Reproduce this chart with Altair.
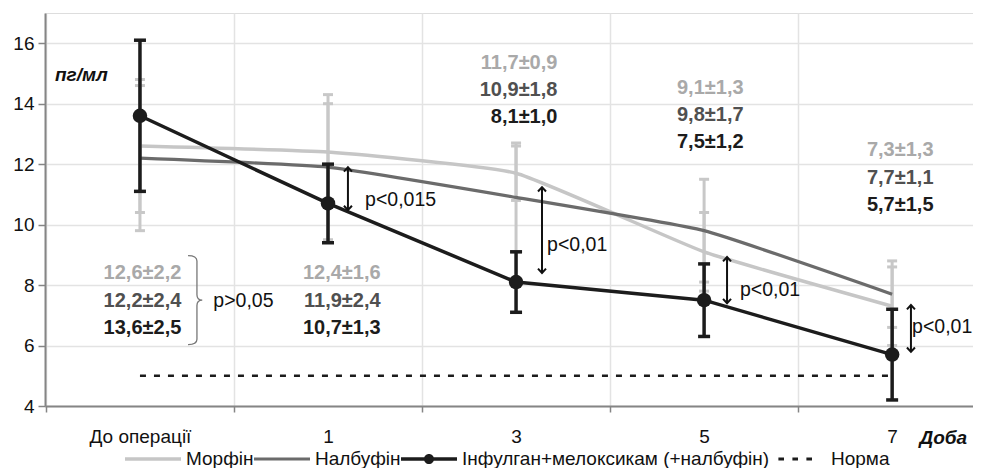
import altair as alt
import pandas as pd

# ---------------- data ----------------
categories = ["До операції", "1", "3", "5", "7"]
positions = [0, 1, 2, 3, 4]
series_names = ["Морфін", "Налбуфін", "Інфулган+мелоксикам (+налбуфін)", "Норма"]
series_colors = ["#c6c6c6", "#6b6b6b", "#1c1c1c", "#1c1c1c"]

morphine = [12.6, 12.4, 11.7, 9.1, 7.3]
morphine_sd = [2.2, 1.6, 0.9, 1.3, 1.3]
nalbuphine = [12.2, 11.9, 10.9, 9.8, 7.7]
nalbuphine_sd = [2.4, 2.4, 1.8, 1.7, 1.1]
infulgan = [13.6, 10.7, 8.1, 7.5, 5.7]
infulgan_sd = [2.5, 1.3, 1.0, 1.2, 1.5]
norm_value = [5, 5]
norm_pos = [0, 4]

y_ticks = [4, 6, 8, 10, 12, 14, 16]

# annotation anchors (data units)
stat_anchor_x = [0.22, 1.28, 2.22, 3.21, 4.22]
stat_anchor_y = [[8.40, 7.47, 6.58], [8.40, 7.47, 6.58], [15.34, 14.45, 13.55],
                 [14.51, 13.62, 12.73], [12.46, 11.54, 10.64]]
stat_colors = ["#a9a9a9", "#505050", "#1c1c1c"]

p_labels = ["p>0,05", "p<0,015", "p<0,01", "p<0,01", "p<0,01"]
p_x = [0.39, 1.197, 2.165, 3.191, 4.106]
p_y = [7.47, 10.81, 9.32, 7.83, 6.61]

arrow_x = [1.106, 2.138, 3.122, 4.1]
arrow_top = [11.90, 11.24, 8.93, 7.34]
arrow_bottom = [10.48, 8.40, 7.40, 5.79]

brace_x = [0.303]
brace_y = [7.50]

unit_label = ["пг/мл"]
unit_x = [-0.452]
unit_y = [14.94]

FONT = "Liberation Sans, Arial, sans-serif"

# ---------------- frames ----------------
def fmt(v):
    return f"{v:.1f}".replace(".", ",")

gray_err = pd.DataFrame({
    "pos": positions * 2,
    "lo": [m - s for m, s in zip(morphine, morphine_sd)] + [m - s for m, s in zip(nalbuphine, nalbuphine_sd)],
    "hi": [m + s for m, s in zip(morphine, morphine_sd)] + [m + s for m, s in zip(nalbuphine, nalbuphine_sd)],
})
black_err = pd.DataFrame({
    "pos": positions,
    "lo": [m - s for m, s in zip(infulgan, infulgan_sd)],
    "hi": [m + s for m, s in zip(infulgan, infulgan_sd)],
})
morph_df = pd.DataFrame({"pos": positions, "val": morphine})
nalb_df = pd.DataFrame({"pos": positions, "val": nalbuphine})
black_df = pd.DataFrame({"pos": positions, "val": infulgan})
norm_df = pd.DataFrame({"pos": norm_pos, "val": norm_value})

stat_rows = []
for i in range(5):
    vals = [(morphine[i], morphine_sd[i]), (nalbuphine[i], nalbuphine_sd[i]), (infulgan[i], infulgan_sd[i])]
    for j, (m, s) in enumerate(vals):
        stat_rows.append({"x": stat_anchor_x[i], "y": stat_anchor_y[i][j],
                          "text": f"{fmt(m)}±{fmt(s)}", "color": stat_colors[j]})
stat_df = pd.DataFrame(stat_rows)

p_df = pd.DataFrame({"x": p_x, "y": p_y, "text": p_labels})
arrow_df = pd.DataFrame({"x": arrow_x, "top": arrow_top, "bottom": arrow_bottom})
brace_df = pd.DataFrame({"x": brace_x, "y": brace_y})
unit_df = pd.DataFrame({"x": unit_x, "y": unit_y, "text": unit_label})
legend_df = pd.DataFrame({"pos": [0] * 4, "val": [0] * 4, "series": series_names})

# ---------------- scales / axes ----------------
xscale = alt.Scale(domain=[-0.505, 4.43], nice=False, zero=False)
yscale = alt.Scale(domain=[4, 17], nice=False, zero=False)

label_list = "[" + ",".join(f"'{c}'" for c in categories) + "]"
xaxis = alt.Axis(
    values=[-0.5, 0, 0.5, 1, 1.5, 2, 2.5, 3, 3.5, 4],
    labelExpr=f"datum.value % 1 === 0 ? {label_list}[datum.value] : ''",
    tickOpacity={"condition": {"test": "datum.value % 1 === 0", "value": 0}, "value": 1},
    gridOpacity={"condition": {"test": "datum.value % 1 === 0", "value": 0}, "value": 1},
    grid=True, gridColor="#e3e3e3", gridWidth=1.5,
    domainColor="#858585", domainWidth=2,
    tickColor="#858585", tickSize=6, tickWidth=1.5,
    labelPadding=15, labelFontSize=19, labelColor="#111111", labelFont=FONT,
    labelOverlap=False, labelFlush=False, labelBound=False,
    title="Доба", titleX=874, titleY=31, titleAlign="left", titleBaseline="middle",
    titleFontStyle="italic", titleFontWeight="bold", titleFontSize=19, titleFont=FONT,
    titleColor="#111111", titleAngle=0,
)
yaxis = alt.Axis(
    values=y_ticks, grid=True, gridColor="#e3e3e3", gridWidth=1.5,
    domainColor="#858585", domainWidth=2,
    tickColor="#858585", tickSize=7, tickWidth=1.5,
    labelPadding=4, labelFontSize=19, labelColor="#111111", labelFont=FONT, title=None,
)

X = lambda f="pos": alt.X(f"{f}:Q", scale=xscale, axis=xaxis)
Y = lambda f: alt.Y(f"{f}:Q", scale=yscale, axis=yaxis)

color_scale = alt.Scale(domain=series_names, range=series_colors)

CAP = "M-1,0L1,0"
ARROW_UP = "M-1,1.1L0,0L1,1.1"
ARROW_DOWN = "M-1,-1.1L0,0L1,-1.1"
BRACE = "M-0.2,-1Q0,-1 0,-0.88L0,-0.12Q0,0 0.12,0Q0,0 0,0.12L0,0.88Q0,1 -0.2,1"

LEG_LINE_A = "M-1,-0.065H1V0.065H-1Z"
LEG_LINE_B = "M-1,-0.055H1V0.055H-1Z"
LEG_LINE_C = "M-1,-0.06H1V0.06H-1Z M0.18,0A0.18,0.18 0 1,1 -0.18,0A0.18,0.18 0 1,1 0.18,0Z"
LEG_DASH = "M-0.7,-0.05H-0.5V0.05H-0.7Z M-0.2,-0.05H0V0.05H-0.2Z M0.3,-0.05H0.5V0.05H0.3Z"

# ---------------- layers ----------------
gray_rule = alt.Chart(gray_err).mark_rule(color="#c8c8c8", strokeWidth=3).encode(
    x=X(), y=Y("lo"), y2="hi")
gray_cap_hi = alt.Chart(gray_err).mark_point(shape=CAP, size=100, color="#c8c8c8", strokeWidth=3, opacity=1).encode(
    x=X(), y=Y("hi"))
gray_cap_lo = alt.Chart(gray_err).mark_point(shape=CAP, size=100, color="#c8c8c8", strokeWidth=3, opacity=1).encode(
    x=X(), y=Y("lo"))

morph_line = alt.Chart(morph_df).mark_line(strokeWidth=3.5, color=series_colors[0],
                                           interpolate="cardinal", tension=0.6).encode(x=X(), y=Y("val"))
nalb_line = alt.Chart(nalb_df).mark_line(strokeWidth=3.2, color=series_colors[1],
                                         interpolate="cardinal", tension=0.6).encode(x=X(), y=Y("val"))
norm_line = alt.Chart(norm_df).mark_line(strokeWidth=2.5, strokeDash=[6, 8], color=series_colors[3]).encode(
    x=X(), y=Y("val"))
black_line = alt.Chart(black_df).mark_line(strokeWidth=3.5, color=series_colors[2]).encode(x=X(), y=Y("val"))

black_rule = alt.Chart(black_err).mark_rule(color="#1c1c1c", strokeWidth=3.5).encode(
    x=X(), y=Y("lo"), y2="hi")
black_cap_hi = alt.Chart(black_err).mark_point(shape=CAP, size=144, color="#1c1c1c", strokeWidth=3.5, opacity=1).encode(
    x=X(), y=Y("hi"))
black_cap_lo = alt.Chart(black_err).mark_point(shape=CAP, size=144, color="#1c1c1c", strokeWidth=3.5, opacity=1).encode(
    x=X(), y=Y("lo"))
black_pts = alt.Chart(black_df).mark_point(filled=True, size=210, opacity=1, color="#1c1c1c").encode(
    x=X(), y=Y("val"))

stat_text = alt.Chart(stat_df).mark_text(align="right", baseline="middle", font=FONT, fontSize=20,
                                         fontWeight="bold").encode(
    x=X("x"), y=Y("y"), text="text:N", color=alt.Color("color:N", scale=None))

p_text = alt.Chart(p_df).mark_text(align="left", baseline="middle", font=FONT, fontSize=19.5,
                                   color="#111111").encode(x=X("x"), y=Y("y"), text="text:N")

arrow_rule = alt.Chart(arrow_df).mark_rule(color="#111111", strokeWidth=2).encode(
    x=X("x"), y=Y("top"), y2="bottom")
arrow_up = alt.Chart(arrow_df).mark_point(shape=ARROW_UP, size=64, color="#111111", strokeWidth=2, opacity=1).encode(
    x=X("x"), y=Y("top"))
arrow_down = alt.Chart(arrow_df).mark_point(shape=ARROW_DOWN, size=64, color="#111111", strokeWidth=2, opacity=1).encode(
    x=X("x"), y=Y("bottom"))

brace = alt.Chart(brace_df).mark_point(shape=BRACE, size=7921, color="#777777", strokeWidth=1.3, opacity=1).encode(
    x=X("x"), y=Y("y"))

unit_text = alt.Chart(unit_df).mark_text(align="left", baseline="middle", font=FONT, fontSize=19,
                                         fontWeight="bold", fontStyle="italic", color="#111111").encode(
    x=X("x"), y=Y("y"), text="text:N")

leg = dict(orient="none", legendX=80, legendY=418, direction="horizontal",
           columns=4, columnPadding=0, labelOffset=5, symbolSize=3136,
           symbolStrokeWidth=0, labelFont=FONT, labelFontSize=19,
           labelColor="#111111", padding=0, labelLimit=400, title=None)
legend_layer = alt.Chart(legend_df).mark_point(filled=True, size=3136, opacity=1, clip=True).encode(
    x=X(), y=Y("val"),
    color=alt.Color("series:N", scale=color_scale, sort=series_names, legend=alt.Legend(**leg)),
    shape=alt.Shape("series:N", sort=series_names,
                    scale=alt.Scale(domain=series_names, range=[LEG_LINE_A, LEG_LINE_B, LEG_LINE_C, LEG_DASH]),
                    legend=alt.Legend(**leg)),
)

chart = alt.layer(
    gray_rule, gray_cap_hi, gray_cap_lo, morph_line, nalb_line, norm_line, black_line,
    black_rule, black_cap_hi, black_cap_lo, black_pts,
    stat_text, p_text, arrow_rule, arrow_up, arrow_down, brace, unit_text, legend_layer,
).properties(
    width=928, height=393,
    autosize=alt.AutoSizeParams(type="none"),
    padding={"left": 37, "top": 5, "right": 0, "bottom": 62},
).configure_view(stroke=None).configure(font=FONT)

chart.save("out.html", embed_options={"renderer": "svg", "actions": False})
